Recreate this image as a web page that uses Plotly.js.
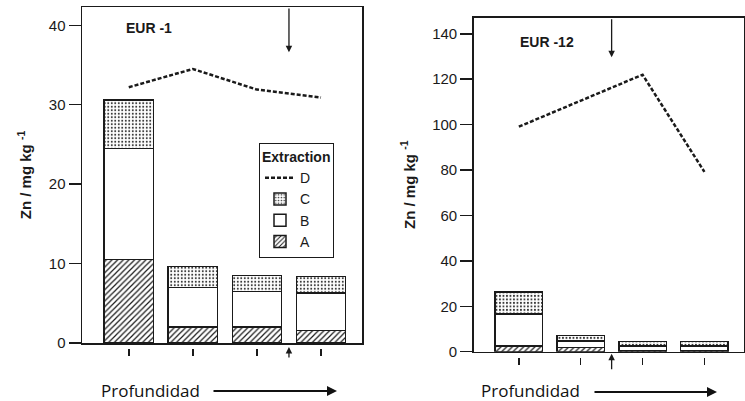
<!DOCTYPE html>
<html>
<head>
<meta charset="utf-8">
<script src="https://cdn.plot.ly/plotly-3.0.1.min.js"></script>
<style>html,body{margin:0;padding:0;background:#fff;}#chart{width:745px;height:401px;}</style>
</head>
<body>
<div id="chart"></div>
<script>
// ---- data ----
const depth = [0, 1, 2, 3];
const depthTicks = [0, 1, 2, 3];
// EUR-1 (stacked increments, mg/kg)
const eur1_A = [10.5, 2.0, 2.0, 1.6];
const eur1_B = [14.0, 5.0, 4.5, 4.7];
const eur1_C = [6.1, 2.6, 2.0, 2.1];
const eur1_D = [32.2, 34.5, 31.9, 30.9];
// EUR-12
const eur12_A = [2.6, 1.8, 0.6, 0.6];
const eur12_B = [14.1, 3.0, 1.9, 1.9];
const eur12_C = [9.5, 2.4, 2.1, 2.0];
const eur12_D = [99.1, null, 122.0, 79.2];
// marker arrows (depth position, tip value)
const eur1_arrow = [2.5, 36.6];
const eur12_arrow = [1.5, 129.7];
const eur1_ticks = [0, 10, 20, 30, 40];
const eur12_ticks = [0, 20, 40, 60, 80, 100, 120, 140];

// ---- styles ----
const ink = '#1a1a1a';
const font = 'Liberation Sans, Arial, sans-serif';
const line = {color: ink, width: 1.5};
function barTrace(name, y, xa, ya, pattern, show) {
  return {type: 'bar', name: name, x: depth, y: y, xaxis: xa, yaxis: ya, showlegend: show,
    marker: {color: 'white', line: line, pattern: pattern}, hoverinfo: 'skip'};
}
const patA = {shape: '/', fgcolor: ink, bgcolor: 'white', size: 4, solidity: 0.3};
const patB = {shape: '', bgcolor: 'white'};
const patC = {shape: '.', fgcolor: '#333', bgcolor: 'white', size: 3.5, solidity: 0.25};
const dline = {color: ink, width: 2.5, dash: '4px,2px'};

const traces = [
  barTrace('A', eur1_A, 'x', 'y', patA, true),
  barTrace('B', eur1_B, 'x', 'y', patB, true),
  barTrace('C', eur1_C, 'x', 'y', patC, true),
  {type: 'scatter', mode: 'lines', name: 'D', x: depth, y: eur1_D, xaxis: 'x', yaxis: 'y', line: dline, showlegend: true},
  barTrace('A', eur12_A, 'x2', 'y2', patA, false),
  barTrace('B', eur12_B, 'x2', 'y2', patB, false),
  barTrace('C', eur12_C, 'x2', 'y2', patC, false),
  {type: 'scatter', mode: 'lines', name: 'D', x: depth, y: eur12_D, xaxis: 'x2', yaxis: 'y2', line: dline, connectgaps: true, showlegend: false},
  // empty carriers so the offset tick axes get drawn
  {type: 'scatter', mode: 'markers', x: [null], y: [null], xaxis: 'x3', yaxis: 'y', showlegend: false, hoverinfo: 'skip'},
  {type: 'scatter', mode: 'markers', x: [null], y: [null], xaxis: 'x4', yaxis: 'y2', showlegend: false, hoverinfo: 'skip'}
];

const W = 745, H = 401;
const L = {x0: 82, x1: 362, y0: 7, y1: 343};
const R = {x0: 473.7, x1: 744, y0: 17.7, y1: 351.7};
const px = v => v / W, py = v => 1 - v / H;

function xax(dom) {
  return {domain: [px(dom.x0), px(dom.x1)], range: [-0.73, 3.64], showline: true, mirror: true,
    linecolor: ink, linewidth: 1.5, ticks: '', showticklabels: false, showgrid: false, zeroline: false, fixedrange: true};
}
function xtick(dom, overl) {
  return {overlaying: overl, anchor: 'free', position: py(dom.y1 + 5), domain: [px(dom.x0), px(dom.x1)],
    range: [-0.73, 3.64], tickvals: depthTicks, ticks: 'outside', ticklen: 7, tickwidth: 1.5, tickcolor: ink,
    showline: false, showticklabels: false, showgrid: false, zeroline: false};
}
function yax(dom, range, ticks, standoff) {
  return {domain: [py(dom.y1), py(dom.y0)], range: range, tickvals: ticks, ticks: 'outside', ticklen: 12,
    tickwidth: 1.5, tickcolor: ink, showline: true, mirror: true, linecolor: ink, linewidth: 1.5,
    showgrid: false, zeroline: false, tickfont: {family: font, size: 15, color: ink},
    title: {text: '<b>Zn / mg kg <sup>-1</sup></b>', font: {family: font, size: 15, color: ink}, standoff: standoff}};
}

const layout = {
  width: W, height: H, margin: {l: 0, r: 0, t: 0, b: 0}, paper_bgcolor: 'white', plot_bgcolor: 'white',
  barmode: 'stack', bargap: 0.23, font: {family: font, color: ink},
  xaxis: xax(L), yaxis: yax(L, [0, 42.3], eur1_ticks, 13),
  xaxis2: Object.assign(xax(R), {anchor: 'y2'}), yaxis2: Object.assign(yax(R, [0, 147.1], eur12_ticks, 13), {anchor: 'x2'}),
  xaxis3: xtick(L, 'x'), xaxis4: xtick(R, 'x2'),
  legend: {x: px(259), y: py(143), xanchor: 'left', yanchor: 'top', traceorder: 'reversed',
    bordercolor: ink, borderwidth: 1, bgcolor: 'white', font: {family: font, size: 14, color: ink},
    title: {text: '<b>Extraction</b>', font: {family: font, size: 14, color: ink}, side: 'top'},
    itemwidth: 30, tracegroupgap: 0},
  annotations: [
    {xref: 'x domain', yref: 'y domain', x: 0.15, y: 0.9375, xanchor: 'left', yanchor: 'middle', showarrow: false,
      text: '<b>EUR -1</b>', font: {family: font, size: 14, color: ink}},
    {xref: 'x2 domain', yref: 'y2 domain', x: 0.163, y: 0.927, xanchor: 'left', yanchor: 'middle', showarrow: false,
      text: '<b>EUR -12</b>', font: {family: font, size: 14, color: ink}},
    // down arrows from the top frame
    {xref: 'x', yref: 'y', axref: 'x', ayref: 'y', x: eur1_arrow[0], y: eur1_arrow[1], ax: eur1_arrow[0], ay: 42.3,
      text: '', showarrow: true, arrowhead: 2, arrowsize: 1, arrowwidth: 1.3, arrowcolor: ink},
    {xref: 'x2', yref: 'y2', axref: 'x2', ayref: 'y2', x: eur12_arrow[0], y: eur12_arrow[1], ax: eur12_arrow[0], ay: 147.1,
      text: '', showarrow: true, arrowhead: 2, arrowsize: 1, arrowwidth: 1.3, arrowcolor: ink},
    // small up arrows under the axis
    {xref: 'x', yref: 'paper', x: eur1_arrow[0], y: py(L.y1 + 4), ax: 0, ay: 12,
      text: '', showarrow: true, arrowhead: 2, arrowsize: 1, arrowwidth: 1.3, arrowcolor: ink},
    {xref: 'x2', yref: 'paper', x: eur12_arrow[0], y: py(R.y1 + 2), ax: 0, ay: 17,
      text: '', showarrow: true, arrowhead: 2, arrowsize: 1, arrowwidth: 1.3, arrowcolor: ink},
    // Profundidad labels
    {xref: 'paper', yref: 'paper', x: px(150), y: py(390), xanchor: 'center', yanchor: 'middle', showarrow: false,
      text: 'Profundidad', font: {family: 'Open Sans, sans-serif', size: 17, color: '#111'}},
    {xref: 'paper', yref: 'paper', x: px(337), y: py(391), text: '', showarrow: true, ax: -125, ay: 0,
      arrowhead: 2, arrowsize: 1, arrowwidth: 2, arrowcolor: '#111'},
    {xref: 'paper', yref: 'paper', x: px(530.5), y: py(390), xanchor: 'center', yanchor: 'middle', showarrow: false,
      text: 'Profundidad', font: {family: 'Open Sans, sans-serif', size: 17, color: '#111'}},
    {xref: 'paper', yref: 'paper', x: px(717), y: py(392), text: '', showarrow: true, ax: -124, ay: 0,
      arrowhead: 2, arrowsize: 1, arrowwidth: 2, arrowcolor: '#111'}
  ]
};

Plotly.newPlot('chart', traces, layout, {staticPlot: true, displayModeBar: false});
</script>
</body>
</html>
